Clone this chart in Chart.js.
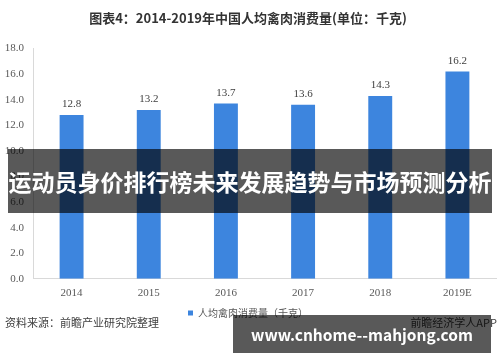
<!DOCTYPE html>
<html lang="zh">
<head>
<meta charset="UTF-8">
<title>人均禽肉消费量</title>
<style>
  body { margin: 0; background: #fff; }
  #wrap { position: relative; width: 500px; height: 362px; overflow: hidden; }
  #myChart { position: absolute; left: 0; top: 0; }
  .txt { position: absolute; white-space: nowrap; font-family: "Noto Sans CJK SC", sans-serif; }
  #source { left: 5px; top: 314px; font-size: 11px; color: #404040; }
  #app { right: 3px; top: 314px; font-size: 11px; color: #404040; }
  .banner { position: absolute; background: rgba(0,0,0,0.65); color: #fff; font-weight: bold; white-space: nowrap;
            font-family: "Noto Sans CJK SC", sans-serif; display: flex; align-items: center; justify-content: center; }
  #banner1 { left: 8px; top: 149px; width: 484px; height: 64px; font-size: 23px; }
  #banner2 { left: 233px; top: 315px; width: 258px; height: 38px; font-size: 15.5px; }
</style>
</head>
<body>
<div id="wrap">
  <canvas id="myChart" width="500" height="362"></canvas>
  <div class="txt" id="source">资料来源：前瞻产业研究院整理</div>
  <div class="txt" id="app">前瞻经济学人APP</div>
  <div class="banner" id="banner1">运动员身价排行榜未来发展趋势与市场预测分析</div>
  <div class="banner" id="banner2">www.cnhome--mahjong.com</div>
</div>
<script src="https://cdn.jsdelivr.net/npm/chart.js@4.4.0/dist/chart.umd.min.js"></script>
<script>
  var anios = ["2014", "2015", "2016", "2017", "2018", "2019E"];
  var consumo = [12.8, 13.2, 13.7, 13.6, 14.3, 16.2];
  var titulo = "图表4：2014-2019年中国人均禽肉消费量(单位：千克)";
  var serie = "人均禽肉消费量（千克）";

  // etiquetas encima de cada barra
  var etiquetas = {
    id: 'etiquetas',
    afterDatasetsDraw: function(chart) {
      var ctx = chart.ctx;
      var meta = chart.getDatasetMeta(0);
      ctx.save();
      ctx.font = '11px "Liberation Serif", serif';
      ctx.fillStyle = '#404040';
      ctx.textAlign = 'center';
      ctx.textBaseline = 'bottom';
      meta.data.forEach(function(bar, i) {
        ctx.fillText(consumo[i].toFixed(1), bar.x, bar.y - 5);
      });
      ctx.restore();
    }
  };

  var ctx = document.getElementById('myChart').getContext('2d');
  var myChart = new Chart(ctx, {
    type: 'bar',
    data: {
      labels: anios,
      datasets: [{
        label: serie,
        data: consumo,
        backgroundColor: '#3d85de',
        barPercentage: 0.62,
        categoryPercentage: 0.5
      }]
    },
    options: {
      responsive: false,
      animation: false,
      layout: { padding: { left: 0, right: 4, top: 0, bottom: 34 } },
      plugins: {
        title: {
          display: true,
          text: titulo,
          color: '#333',
          font: { family: '"Noto Sans CJK SC", sans-serif', size: 13, weight: 'bold' },
          padding: { top: 10, bottom: 23 }
        },
        legend: {
          position: 'bottom',
          labels: {
            usePointStyle: true,
            pointStyle: 'rect',
            boxWidth: 5,
            boxHeight: 5,
            padding: 0,
            color: '#595959',
            font: { family: '"Noto Sans CJK SC", sans-serif', size: 10 }
          }
        },
        tooltip: { enabled: false }
      },
      scales: {
        x: {
          grid: { display: false, drawTicks: false },
          border: { display: true, color: '#d9d9d9' },
          ticks: { color: '#595959', font: { family: '"Liberation Serif", serif', size: 11 }, padding: 8 }
        },
        y: {
          min: 0,
          max: 18,
          afterFit: function(scale) { scale.width = 33; },
          grid: { display: false, drawTicks: false },
          border: { display: true, color: '#d9d9d9' },
          ticks: {
            stepSize: 2,
            padding: 9,
            color: '#595959',
            font: { family: '"Liberation Serif", serif', size: 11 },
            callback: function(v) { return v.toFixed(1); }
          }
        }
      }
    },
    plugins: [etiquetas]
  });
</script>
</body>
</html>
